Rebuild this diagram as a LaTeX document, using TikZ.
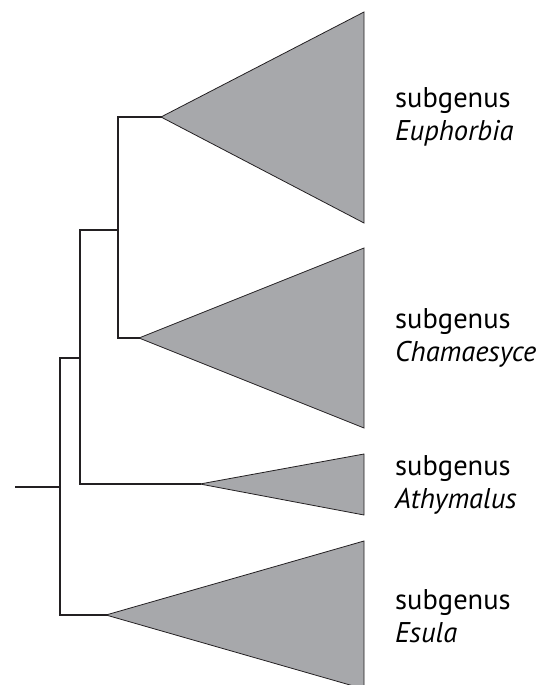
\documentclass[tikz,border=0pt]{standalone}
\usepackage{fontspec}
\setmainfont{PT Sans}
\usepackage{xcolor}
\usepackage{tikz}
\usetikzlibrary{calc}
\usetikzlibrary{positioning}

\definecolor{cladegray}{RGB}{167,168,171}
\definecolor{cladeedge}{RGB}{35,32,34}

\begin{document}
\begin{tikzpicture}[x=1pt,y=-1pt,-,auto]
	\tikzstyle{branch}=[line width=2.8pt, cladeedge, line cap=rect]
	\tikzstyle{clade}=[fill=cladegray, draw=cladeedge, line width=0.8pt, line join=miter]
	\tikzstyle{taxon}=[anchor=west, align=left, inner sep=0pt, font=\fontsize{28.5}{33}\selectfont]
	\useasboundingbox (0,0) rectangle (553,685);
	\clip (0,0) rectangle (553,685);

	% apexes of the collapsed clades
	\coordinate (euph) at (161,117);
	\coordinate (cham) at (139,338);
	\coordinate (athy) at (200,484);
	\coordinate (esul) at (106,615);

	% internal nodes
	\coordinate (root) at (16,487);
	\coordinate (n0) at (60,487);
	\coordinate (n1) at (80,358);
	\coordinate (n2) at (118,230);

	% clades
	\draw[clade] (euph) -- (364,12) -- (364,223) -- cycle;
	\draw[clade] (cham) -- (364,248) -- (364,428) -- cycle;
	\draw[clade] (athy) -- (364,454) -- (364,515) -- cycle;
	\draw[clade] (esul) -- (364,541) -- (364,689) -- cycle;

	% branches
	\draw[branch] (root) -- (n0);
	\draw[branch] (n0) |- (n1);
	\draw[branch] (n0) |- (esul);
	\draw[branch] (n1) |- (n2);
	\draw[branch] (n1) |- (athy);
	\draw[branch] (n2) |- (euph);
	\draw[branch] (n2) |- (cham);

	% labels
	\node[taxon] (Leuph) at (395,117) {subgenus\\\textit{Euphorbia}};
	\node[taxon] (Lcham) at (395,338) {subgenus\\\textit{Chamaesyce}};
	\node[taxon] (Lathy) at (395,485) {subgenus\\\textit{Athymalus}};
	\node[taxon] (Lesul) at (395,616) {subgenus\\\textit{Esula}};
\end{tikzpicture}
\end{document}
